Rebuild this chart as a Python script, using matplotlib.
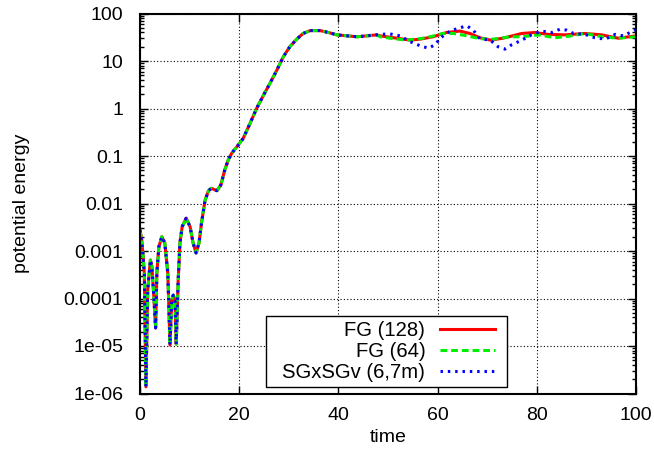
import matplotlib
matplotlib.use("Agg")
import matplotlib.pyplot as plt
from matplotlib.patches import Rectangle
from matplotlib.ticker import LogLocator, FixedLocator, FuncFormatter, NullFormatter

# shared early growth phase (all three runs coincide here), log10 of energy
t_early = [0, 0.35, 0.87, 1.2, 1.55, 2.1, 2.4, 2.7, 3.15, 3.4, 3.8, 4.4, 5.0, 5.6,
           6.05, 6.4, 6.7, 7.05, 7.3, 7.7, 8.05, 8.5, 9.3, 10.1, 10.7, 11.3, 11.9,
           12.4, 13.1, 13.8, 14.4, 15.5, 16.3, 17.1, 17.8, 18.5, 19.8, 20.8, 22.2,
           23.5, 24.9, 26.2, 27.6, 28.9, 30.2, 31.6, 32.9, 34.3, 36.3, 38.0, 39.7,
           43.8, 47.7]
lg_early = [-2.56, -2.77, -3.46, -5.86, -3.82, -3.19, -3.33, -3.82, -4.62, -3.46,
            -2.91, -2.70, -2.83, -3.46, -4.98, -4.03, -3.93, -4.03, -4.96, -3.61,
            -2.83, -2.49, -2.31, -2.49, -2.83, -3.04, -2.83, -2.41, -1.94, -1.73,
            -1.68, -1.73, -1.61, -1.29, -1.08, -0.94, -0.77, -0.63, -0.31, 0.0,
            0.28, 0.53, 0.81, 1.09, 1.30, 1.46, 1.58, 1.64, 1.64, 1.60, 1.55,
            1.51, 1.55]

# saturated phase, per run
t_fg128 = [48.4, 51.1, 54.5, 56.5, 59.1, 61.8, 64.5, 66.5, 68.5, 70.6, 73.2, 77.0,
           79.6, 82.3, 85.7, 89.7, 93.1, 96.4, 100]
lg_fg128 = [1.53, 1.49, 1.44, 1.46, 1.51, 1.60, 1.63, 1.58, 1.49, 1.44, 1.48, 1.58,
            1.60, 1.56, 1.55, 1.58, 1.55, 1.48, 1.53]

t_fg64 = [48.4, 51.1, 53.8, 56.5, 58.5, 61.1, 63.2, 65.9, 68.5, 71.3, 74.6, 77.0,
          80.3, 83.7, 87.0, 89.7, 93.1, 96.4, 100]
lg_fg64 = [1.51, 1.47, 1.44, 1.47, 1.51, 1.58, 1.58, 1.53, 1.47, 1.46, 1.51, 1.51,
           1.55, 1.49, 1.53, 1.58, 1.51, 1.48, 1.51]

t_sg = [48.4, 50.4, 52.4, 54.4, 56.5, 58.1, 59.5, 60.5, 62.5, 64.5, 65.9, 67.2,
        68.5, 70.6, 72.2, 73.6, 74.9, 77.0, 78.9, 81.0, 83.0, 84.7, 86.0, 87.4,
        89.7, 91.7, 93.8, 95.8, 97.4, 100]
lg_sg = [1.56, 1.57, 1.53, 1.41, 1.32, 1.27, 1.34, 1.48, 1.63, 1.70, 1.74, 1.65,
         1.47, 1.44, 1.30, 1.25, 1.34, 1.44, 1.55, 1.63, 1.60, 1.67, 1.65, 1.58,
         1.56, 1.49, 1.46, 1.56, 1.53, 1.66]

labels = ["FG (128)", "FG (64)", "SGxSGv (6,7m)"]

plt.rcParams['font.family'] = ['Liberation Sans', 'DejaVu Sans']
plt.rcParams['font.size'] = 14

fig = plt.figure(figsize=(6.54, 4.54), dpi=100)
ax = fig.add_axes([140 / 654, 60.5 / 454, 496 / 654, 380 / 454])

runs = [(t_fg128, lg_fg128, "#ff0000", "-"),
        (t_fg64, lg_fg64, "#00ee00", (0, (2.2, 1.3))),
        (t_sg, lg_sg, "#0000ff", (0, (0.8, 1.6)))]
for (t_late, lg_late, col, ls), lab in zip(runs, labels):
    t = t_early + t_late
    y = [10 ** v for v in lg_early + lg_late]
    ax.plot(t, y, color=col, ls=ls, lw=2.2, label=lab)

ax.set_yscale("log")
ax.set_xlim(0, 100)
ax.set_ylim(1e-6, 100)
ax.xaxis.set_major_locator(FixedLocator([0, 20, 40, 60, 80, 100]))
ax.yaxis.set_major_locator(LogLocator(base=10, numticks=20))
ax.yaxis.set_minor_locator(LogLocator(base=10, subs=range(2, 10), numticks=20))
ax.yaxis.set_minor_formatter(NullFormatter())
ax.yaxis.set_major_formatter(FuncFormatter(
    lambda v, p: {1e-6: "1e-06", 1e-5: "1e-05"}.get(v, "%g" % v)))

ax.tick_params(which="both", direction="in", top=True, right=True, colors="black")
ax.tick_params(which="major", length=6, width=1)
ax.tick_params(which="minor", length=3, width=1)
ax.tick_params(axis="y", which="major", pad=12)
ax.tick_params(axis="x", which="major", pad=10)
for s in ax.spines.values():
    s.set_linewidth(1.5)
ax.grid(True, which="major", color="black", ls=(0, (1, 2)), lw=0.8)

ax.set_xlabel("time", labelpad=3)
ax.set_ylabel("potential energy", labelpad=24)

# gnuplot-style key: right-aligned labels, samples on the right
leg = ax.legend(loc="lower right", bbox_to_anchor=(0.7264, 0.0163), borderaxespad=0,
                markerfirst=False, handlelength=2.7, handletextpad=0.74,
                labelspacing=0.09, borderpad=0.26, frameon=False, fontsize=14.6)

# white box with black border around the key, a bit wider than its content
fig.canvas.draw()
bb = leg.get_window_extent()
box = Rectangle((bb.x0 - 10.7, bb.y0), bb.width + 17.4, bb.height, transform=None,
                facecolor="white", edgecolor="black", lw=1, zorder=4.5)
ax.add_artist(box)
leg.set_zorder(5)

fig.savefig("out.png", dpi=100)
